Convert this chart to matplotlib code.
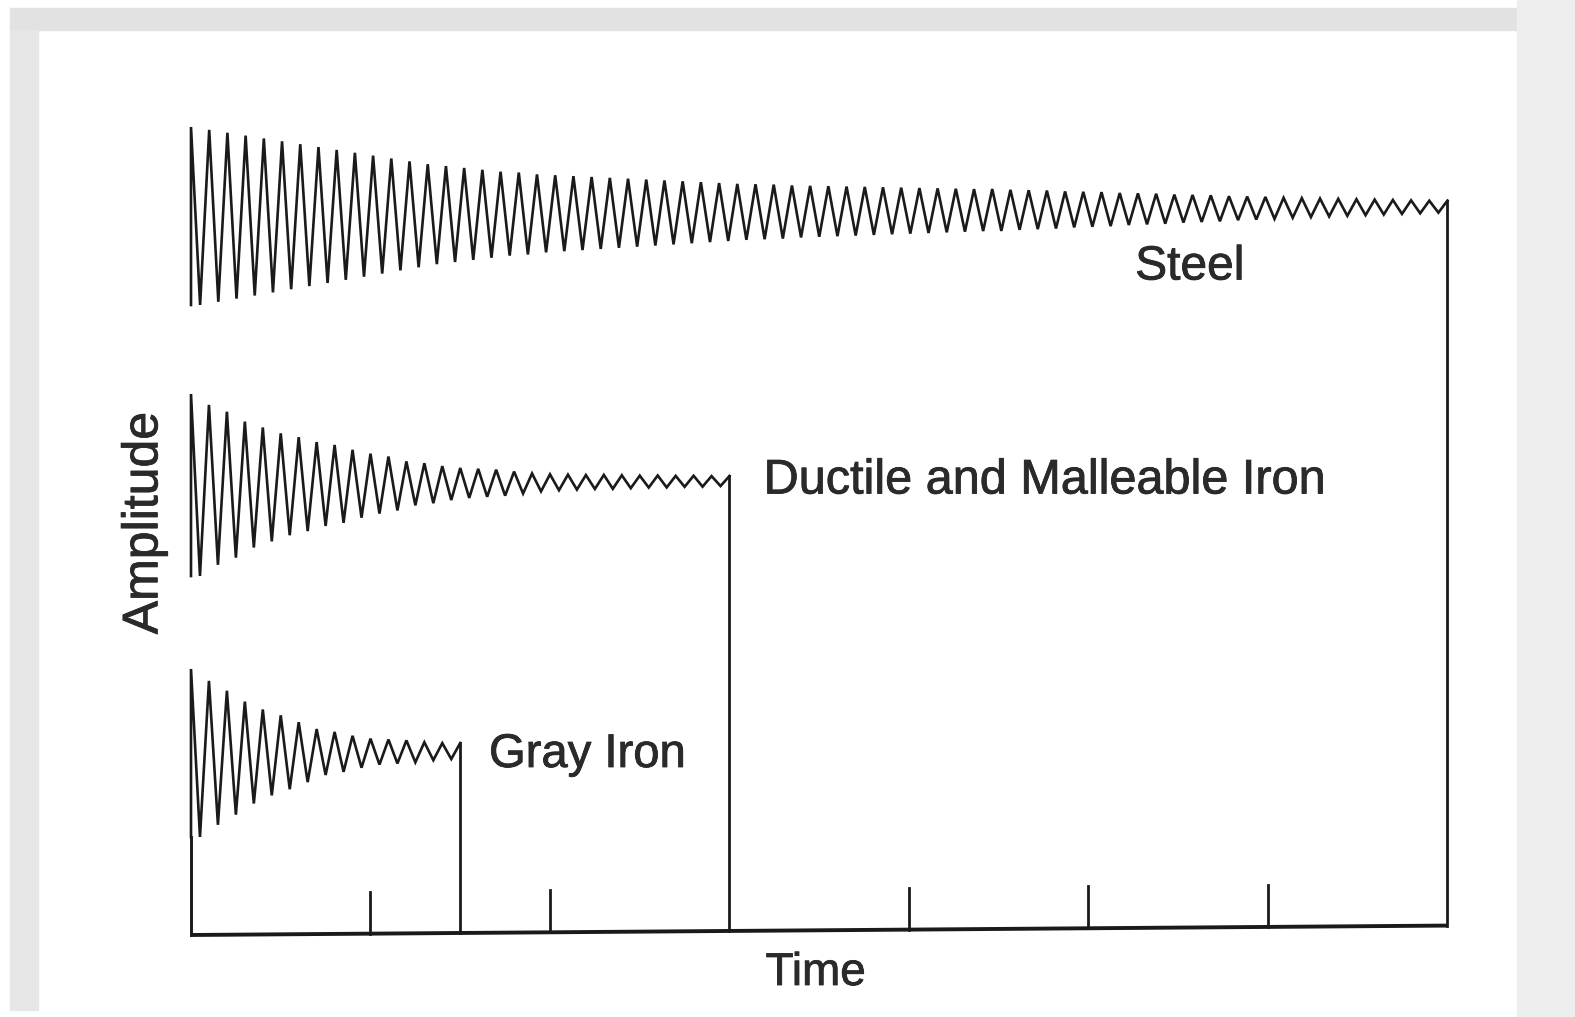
import matplotlib
matplotlib.use("Agg")
import matplotlib.pyplot as plt
import matplotlib.transforms as mtransforms
import matplotlib.patheffects as pe
from matplotlib.patches import Rectangle

plt.rcParams['font.family'] = ['Liberation Sans', 'DejaVu Sans']

# === DATOS ===
# amplitud de cada ciclo (unidades arbitrarias), centro de cada traza y fin en el tiempo
steel_amp = [0.89, 0.86, 0.83, 0.80, 0.77, 0.74, 0.71, 0.68, 0.65, 0.62,
             0.59, 0.56, 0.53, 0.50, 0.48, 0.46, 0.44, 0.42, 0.41, 0.39,
             0.38, 0.37, 0.36, 0.35, 0.34, 0.33, 0.32, 0.31, 0.30, 0.29,
             0.28, 0.275, 0.27, 0.26, 0.255, 0.25, 0.245, 0.24, 0.235, 0.23,
             0.225, 0.22, 0.215, 0.21, 0.21, 0.20, 0.195, 0.19, 0.18, 0.175,
             0.17, 0.16, 0.155, 0.15, 0.14, 0.135, 0.13, 0.12, 0.115, 0.11,
             0.10, 0.095, 0.09, 0.085, 0.08, 0.075, 0.07, 0.065, 0.06]
ductile_amp = [0.91, 0.80, 0.73, 0.63, 0.57, 0.51, 0.47, 0.42, 0.39, 0.34,
               0.30, 0.27, 0.22, 0.20, 0.17, 0.15, 0.14, 0.13, 0.11, 0.09,
               0.08, 0.075, 0.07, 0.07, 0.065, 0.06, 0.06, 0.055, 0.055, 0.05]
gray_amp = [0.84, 0.72, 0.62, 0.51, 0.43, 0.37, 0.30, 0.23, 0.20, 0.16,
            0.13, 0.12, 0.11, 0.09, 0.08]

nombres = ["Steel", "Ductile and Malleable Iron", "Gray Iron"]
centros = [7.19, 4.50, 1.82]
fin_tiempo = [7.0, 3.0, 1.5]
amplitudes = [steel_amp, ductile_amp, gray_amp]

ticks_tiempo = [1, 2, 4, 5, 6]

# === FIGURA ===
W, H = 1575, 1017
fig = plt.figure(figsize=(W / 100, H / 100), dpi=100)
fig.patch.set_facecolor("white")

# bordes grises del escaneo
def rect_px(x0, y0, x1, y1, color):
    fig.patches.append(Rectangle((x0 / W, 1 - y1 / H), (x1 - x0) / W, (y1 - y0) / H,
                                 transform=fig.transFigure, color=color, zorder=0))

rect_px(10, 8, 1517, 30, "#e2e2e2")
rect_px(10, 30, 38, 1010, "#e6e6e6")
rect_px(1517, 0, 1575, 1017, "#eeeeee")

# ejes: 1 unidad de tiempo = 179.5 px, 1 unidad de amplitud = 100 px
x0_px, base_px, ux = 191, 935, 179.5
ax = fig.add_axes([0, 0, 1, 1])
ax.set_xlim(-x0_px / ux, (W - x0_px) / ux)
ax.set_ylim(-(H - base_px) / 100, base_px / 100)
ax.axis("off")
ax.patch.set_alpha(0)

# el escaneo esta algo inclinado: la derecha queda mas alta
k = 0.0075
inclinado = mtransforms.Affine2D([[1, 0, 0], [k, 1, -k * x0_px], [0, 0, 1]])
tr = ax.transData + inclinado

color_linea = "#1a1a1a"

# === TRAZAS ===
for amp, c, t_fin in zip(amplitudes, centros, fin_tiempo):
    n = len(amp)
    p = t_fin / n
    xs = [0.0]
    ys = [c - amp[0]]
    for j in range(n):
        xs += [j * p, (j + 0.5) * p]
        ys += [c + amp[j], c - amp[j]]
    xs.append(t_fin)
    ys.append(c + amp[-1])
    ax.plot(xs, ys, color=color_linea, lw=1.9, solid_joinstyle="miter", transform=tr)
    ax.plot([t_fin, t_fin], [c + amp[-1], 0], color=color_linea, lw=2.0, transform=tr)

# eje izquierdo hasta la traza inferior y eje del tiempo
ax.plot([0, 0], [0, centros[2] - gray_amp[0]], color=color_linea, lw=2.1, transform=tr)
ax.plot([0, 7.0], [0, 0], color=color_linea, lw=2.8, solid_capstyle="butt", transform=tr)
for t in ticks_tiempo:
    ax.plot([t, t], [0, 0.42], color=color_linea, lw=2.0, transform=tr)

# === TEXTOS ===
efecto = [pe.withStroke(linewidth=0.6, foreground="#2a2a2a")]
txt = dict(color="#2a2a2a", path_effects=efecto)
ax.text(5.26, 6.68, nombres[0], ha="left", va="center", fontsize=34.5, **txt)
ax.text(3.19, 4.54, nombres[1], ha="left", va="center", fontsize=35, **txt)
ax.text(1.66, 1.80, nombres[2], ha="left", va="center", fontsize=34, **txt)
ax.text(3.48, -0.38, "Time", ha="center", va="center", fontsize=33, **txt)
ax.text(-0.26, 4.12, "Amplitude", ha="center", va="center", rotation=90,
        fontsize=36, **txt)

fig.savefig("out.png", dpi=100)
